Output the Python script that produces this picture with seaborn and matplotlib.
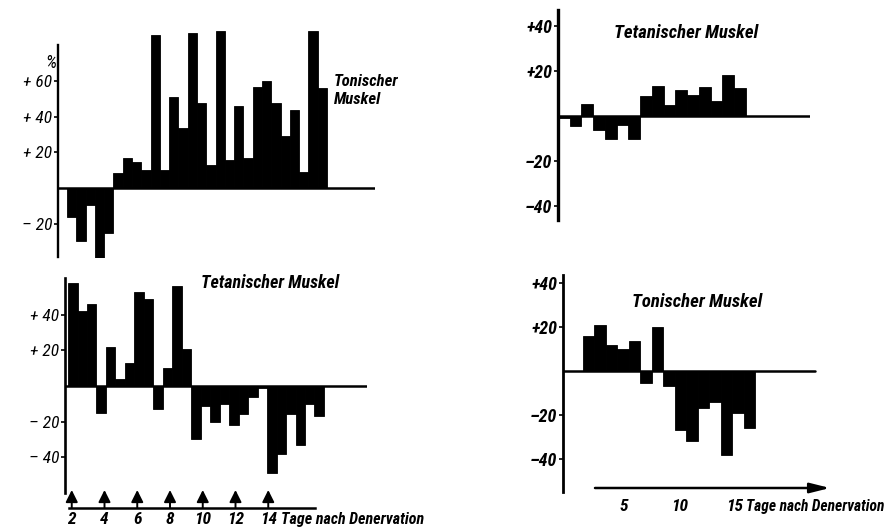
import matplotlib
matplotlib.use("Agg")
import matplotlib.pyplot as plt
import seaborn as sns
from matplotlib import font_manager as fm

# ---------------- data (% change) ----------------
tonic_left = [-16, -30, -9.5, -45, -25, 8.5, 17, 14.5, 10, 86, 10, 51, 34, 87,
              48, 13, 88, 16, 46, 17, 57, 60, 48, 29, 44, 9, 88, 56]
tetanic_left = [58, 42, 46, -15, 22, 4, 13, 53, 49, -13, 10, 56, 21, -30, -11,
                -20, -10, -22, -16, -6, -1, -49, -38, -16, -33, -10, -17]
tetanic_right = [-1, -4.5, 5.5, -6, -10, -4, -10, 9, 13.5, 5, 11.5, 9.5, 13,
                 6.5, 18, 12.5]
tonic_right = [16, 21, 12, 10, 13.5, -5.5, 20, -7, -27, -32, -17, -14, -38,
               -19, -26]

yticks_a = [60, 40, 20, -20]
ylabels_a = ["+ 60", "+ 40", "+ 20", "\u2013 20"]
yticks_b = [40, 20, -20, -40]
ylabels_b = ["+ 40", "+ 20", "\u2013 20", "\u2013 40"]
yticks_r = [40, 20, -20, -40]
ylabels_r = ["+40", "+20", "\u201320", "\u201340"]

days_left = [2, 4, 6, 8, 10, 12, 14]
days_right = [5, 10, 15]
xlabel = "Tage nach Denervation"
title_tonic = "Tonischer Muskel"
title_tetanic = "Tetanischer Muskel"

# ---------------- style ----------------
sns.set_theme(style="white")
installed = {f.name for f in fm.fontManager.ttflist}
candidates = ["Liberation Sans Narrow", "Roboto Condensed", "Noto Sans Condensed",
              "Open Sans Condensed", "DejaVu Sans Condensed", "DejaVu Sans"]
families = [c for c in candidates if c in installed] or ["DejaVu Sans"]
plt.rcParams["font.family"] = families + (["DejaVu Sans"] if "DejaVu Sans" not in families else [])
plt.rcParams["font.style"] = "italic"
plt.rcParams["font.weight"] = "bold"
plt.rcParams["font.stretch"] = "condensed"

W, H = 891, 532
fig = plt.figure(figsize=(W / 100, H / 100), dpi=100)
fig.patch.set_facecolor("white")


def px_axes(x0, x1, y_top, y_bot):
    return fig.add_axes([x0 / W, 1 - y_bot / H, (x1 - x0) / W, (y_bot - y_top) / H])


def ftext(x, y, s, **kw):
    fig.text(x / W, 1 - y / H, s, color="black", **kw)


def bar_panel(ax, values, xlim, ylim, bounds, yticks, ylabels, spine_lw,
              tick_size, tick_weight, zero_xmax=1.0):
    sns.barplot(x=list(range(len(values))), y=values, color="black",
                saturation=1, width=1.0, errorbar=None, linewidth=0.6,
                edgecolor="black", ax=ax)
    ax.set_xlim(*xlim)
    ax.set_ylim(*ylim)
    for s in ("top", "right", "bottom"):
        ax.spines[s].set_visible(False)
    ax.spines["left"].set_bounds(*bounds)
    ax.spines["left"].set_linewidth(spine_lw)
    ax.spines["left"].set_color("black")
    ax.axhline(0, xmin=0, xmax=zero_xmax, color="black", lw=1.8)
    ax.set_xticks([])
    ax.set_xlabel("")
    ax.set_ylabel("")
    ax.set_yticks(yticks, ylabels)
    ax.tick_params(axis="y", left=True, length=3, width=1.2, pad=1,
                   labelsize=tick_size, colors="black")
    for t in ax.get_yticklabels():
        t.set_fontweight(tick_weight)
    ax.patch.set_alpha(0)


# ---- A: top-left, Tonischer Muskel ----
axA = px_axes(58, 375, 25, 258)
bar_panel(axA, tonic_left, (-1.47, 32.67), (-39.3, 91.6), (-39, 80.3),
          yticks_a, ylabels_a, 1.7, 12.5, "normal")
ftext(51, 63, "%", fontsize=13, ha="center", va="center", fontweight="normal")
ftext(334, 81, "Tonischer", fontsize=12, ha="left", va="center")
ftext(334, 100, "Muskel", fontsize=12, ha="left", va="center")

# ---- B: bottom-left, Tetanischer Muskel ----
axB = px_axes(65, 367, 278, 510)
bar_panel(axB, tetanic_left, (-0.82, 31.04), (-69.7, 60.7), (-60, 60.7),
          yticks_b, ylabels_b, 1.9, 12.5, "normal")
ftext(270, 283, title_tetanic, fontsize=13, ha="center", va="center")

# day axis with arrows (left)
axBd = px_axes(60, 330, 488, 508)
axBd.set_xlim(8 + (60 - 170) / 16.375, 8 + (330 - 170) / 16.375)
axBd.set_ylim(0, 1)
for s in ("top", "right", "left"):
    axBd.spines[s].set_visible(False)
axBd.spines["bottom"].set_bounds(1.85, 16.85)
axBd.spines["bottom"].set_linewidth(1.8)
axBd.spines["bottom"].set_color("black")
axBd.patch.set_alpha(0)
axBd.set_yticks([])
axBd.set_xticks(days_left, [str(d) for d in days_left])
axBd.tick_params(axis="x", bottom=True, length=0, pad=3, labelsize=12.5,
                 colors="black")
for d in days_left:
    axBd.annotate("", xy=(d, 0.9), xytext=(d, 0.0),
                  arrowprops=dict(arrowstyle="-|>,head_width=0.3,head_length=0.6",
                                  color="black", lw=1.4, shrinkA=0, shrinkB=0))
axBd.annotate(xlabel, xy=(days_left[-1], 0), xycoords="data",
              xytext=(9.5, -3), textcoords="offset points", ha="left", va="top",
              fontsize=11.5, color="black")

# ---- C: top-right, Tetanischer Muskel ----
axC = px_axes(558, 810, 10, 220)
bar_panel(axC, tetanic_right, (-0.5, 20.95), (-46.2, 47.1), (-46.2, 47.1),
          yticks_r, ylabels_r, 2.4, 13, "bold")
ftext(686, 33, title_tetanic, fontsize=13.5, ha="center", va="center")

# ---- D: bottom-right, Tonischer Muskel ----
axD = px_axes(563, 828, 275, 492)
bar_panel(axD, tonic_right, (-2.24, 20.86), (-55, 43.6), (-55, 43.6),
          yticks_r, ylabels_r, 2.0, 13, "bold",
          zero_xmax=(815 - 563) / (828 - 563))
ftext(697, 302, title_tonic, fontsize=13.5, ha="center", va="center")

# day axis with arrow (right)
axDd = px_axes(563, 840, 468, 488)
axDd.set_xlim(5 + (563 - 624) / 11.05, 5 + (840 - 624) / 11.05)
axDd.set_ylim(0, 1)
for s in ("top", "right", "left", "bottom"):
    axDd.spines[s].set_visible(False)
axDd.patch.set_alpha(0)
axDd.set_yticks([])
axDd.set_xticks(days_right, [str(d) for d in days_right])
axDd.tick_params(axis="x", bottom=True, length=0, pad=8, labelsize=12.5,
                 colors="black")
axDd.annotate("", xy=(5 + (830 - 624) / 11.05, 0), xytext=(5 + (595 - 624) / 11.05, 0),
              arrowprops=dict(arrowstyle="-|>,head_width=0.25,head_length=1.0",
                              color="black", lw=1.8, shrinkA=0, shrinkB=0))
axDd.annotate(xlabel, xy=(days_right[-1], 0), xycoords="data",
              xytext=(8, -8), textcoords="offset points", ha="left", va="top",
              fontsize=11.2, color="black")

fig.savefig("out.png", dpi=100, facecolor="white")
